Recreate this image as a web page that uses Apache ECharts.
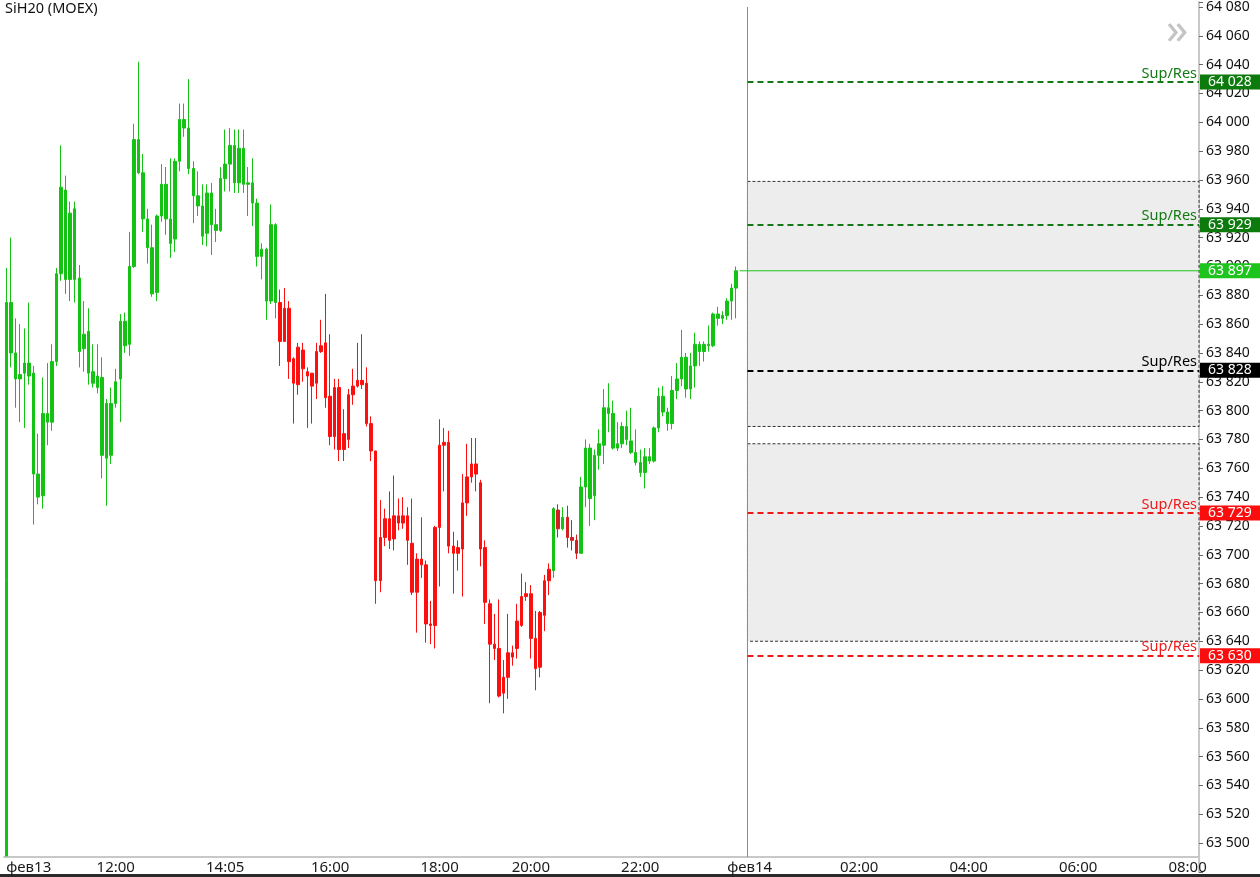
<!DOCTYPE html>
<html><head><meta charset="utf-8">
<script src="https://cdn.jsdelivr.net/npm/echarts@6/dist/echarts.min.js"></script>
<style>html,body{margin:0;padding:0;background:#fff}#c{width:1260px;height:877px}</style>
</head><body><div id="c"></div>
<script>
// ---- time slots (5-minute candles; trading sessions + future area) ----
const sessions = [
  ['13', '10:00', '13:55'],
  ['13', '14:05', '18:40'],
  ['13', '19:05', '23:55'],
  ['14', '00:00', '08:10']
];
const CANDLE_COUNT = 161;

const tickKeys  = ['13 10:00','13 12:00','13 14:05','13 16:00','13 18:00','13 20:00','13 22:00','14 00:00','14 02:00','14 04:00','14 06:00','14 08:00'];
const tickTexts = ['фев13','12:00','14:05','16:00','18:00','20:00','22:00','фев14','02:00','04:00','06:00','08:00'];

// price axis: labelled ticks every 20 from 63 500 to 64 080
const yLabelMin = 63500, yLabelMax = 64080, yStep = 20;

// ---- OHLC ----
const open = [63491,63875,63840,63822,63826,63833,63826,63756,63741,63798,
63792,63834,63895,63953,63891,63940,63892,63843,63855,63827,
63824,63823,63767,63805,63805,63822,63845,63846,63900,63988,
63965,63933,63913,63882,63935,63957,63933,63919,63973,64002,
63996,63968,63949,63942,63923,63951,63929,63925,63961,63971,
63984,63958,63982,63957,63958,63944,63907,63912,63876,63929,
63875,63848,63871,63836,63818,63842,63827,63826,63819,63841,
63847,63810,63782,63816,63773,63780,63811,63817,63821,63819,
63791,63772,63682,63712,63725,63711,63727,63722,63727,63708,
63674,63697,63693,63652,63651,63719,63776,63778,63706,63701,
63704,63736,63754,63763,63750,63705,63666,63638,63635,63604,
63615,63632,63635,63651,63671,63673,63642,63622,63658,63682,
63689,63731,63718,63726,63712,63710,63701,63747,63774,63741,
63769,63776,63802,63798,63774,63777,63789,63779,63771,63764,
63757,63768,63765,63788,63810,63799,63791,63814,63822,63837,
63815,63831,63846,63841,63846,63845,63867,63864,63866,63876,
63885];
const close = [63875,63840,63822,63825,63833,63824,63756,63740,63798,63792,
63834,63895,63955,63891,63937,63891,63841,63853,63826,63819,
63816,63769,63805,63769,63820,63862,63862,63900,63988,63965,
63933,63913,63881,63935,63957,63933,63916,63973,64002,63996,
63968,63949,63942,63921,63951,63929,63925,63961,63971,63984,
63958,63982,63957,63958,63944,63907,63912,63876,63929,63875,
63848,63871,63834,63819,63844,63829,63824,63817,63841,63845,
63809,63782,63816,63773,63784,63811,63817,63821,63818,63791,
63772,63682,63712,63725,63710,63727,63722,63727,63710,63674,
63697,63693,63652,63651,63719,63776,63778,63706,63701,63705,
63736,63754,63763,63756,63704,63667,63638,63635,63602,63615,
63632,63629,63654,63671,63673,63642,63621,63660,63682,63690,
63732,63718,63726,63712,63710,63701,63747,63774,63739,63769,
63777,63802,63798,63774,63777,63789,63780,63771,63764,63757,
63768,63765,63788,63810,63799,63791,63814,63822,63837,63815,
63831,63846,63841,63846,63845,63867,63864,63866,63876,63885,
63897];
const low = [63491,63830,63802,63792,63788,63818,63721,63735,63732,63776,
63786,63831,63890,63881,63876,63875,63830,63827,63818,63816,
63812,63753,63734,63763,63802,63792,63840,63838,63899,63964,
63924,63902,63879,63876,63931,63922,63906,63910,63966,63990,
63964,63930,63935,63915,63914,63908,63917,63924,63952,63952,
63951,63951,63951,63935,63928,63900,63891,63863,63874,63864,
63831,63848,63822,63791,63811,63820,63788,63791,63808,63840,
63802,63776,63773,63765,63765,63774,63804,63816,63815,63789,
63765,63666,63674,63706,63704,63703,63717,63718,63693,63672,
63646,63684,63639,63638,63635,63678,63744,63701,63673,63689,
63671,63727,63750,63744,63692,63652,63597,63627,63601,63590,
63600,63623,63628,63650,63668,63628,63606,63615,63647,63672,
63684,63712,63717,63705,63703,63697,63701,63733,63720,63724,
63759,63763,63785,63773,63772,63774,63776,63770,63762,63754,
63746,63763,63764,63785,63796,63786,63787,63808,63817,63809,
63808,63816,63831,63834,63841,63844,63859,63860,63863,63863,
63864];
const high = [63899,63920,63864,63860,63857,63875,63831,63784,63823,63833,
63846,63899,63984,63963,63945,63945,63901,63876,63871,63846,
63846,63837,63808,63816,63829,63867,63868,63924,63999,64042,
63978,63940,63929,63936,63971,63969,63975,63975,64013,64013,
64030,63973,63966,63957,63957,63958,63940,63969,63995,63996,
63995,63995,63995,63969,63975,63947,63916,63913,63943,63930,
63884,63885,63876,63837,63847,63847,63830,63826,63847,63863,
63881,63853,63822,63822,63801,63815,63829,63847,63853,63830,
63796,63772,63738,63732,63744,63755,63739,63740,63733,63739,
63701,63726,63696,63668,63720,63794,63788,63786,63716,63710,
63756,63777,63781,63781,63752,63710,63669,63659,63669,63627,
63659,63637,63666,63687,63681,63679,63661,63661,63686,63694,
63733,63735,63733,63734,63724,63714,63754,63780,63777,63773,
63787,63815,63819,63807,63792,63792,63800,63802,63787,63773,
63774,63774,63789,63816,63817,63802,63824,63833,63856,63840,
63840,63854,63848,63848,63859,63868,63872,63869,63878,63888,
63900];
// trend colouring segments [firstIndex, lastIndex, kind]
const trendSegments = [[0,59,'g'],[60,119,'r'],[120,120,'g'],[121,121,'d'],[122,122,'g'],[123,125,'d'],[126,160,'g']];

// ---- levels ----
const supRes = [
  {value: 64028, line: '#137a13', bg: '#0c7a0c'},
  {value: 63929, line: '#137a13', bg: '#0c7a0c'},
  {value: 63828, line: '#000000', bg: '#000000'},
  {value: 63729, line: '#ee1a1a', bg: '#fb0d0d'},
  {value: 63630, line: '#ee1a1a', bg: '#fb0d0d'}
];
const lastPrice = 63897;
const zones = [[63959, 63789], [63777, 63640]];

// ---- build ----
function toMin(s){const p=s.split(':');return +p[0]*60 + +p[1];}
function pad(n){return (n<10?'0':'')+n;}
const categories = [];
sessions.forEach(([d, a, b]) => {
  for (let m = toMin(a); m <= toMin(b); m += 5) categories.push(d + ' ' + pad(Math.floor(m/60)) + ':' + pad(m%60));
});
const tickMap = {};
tickKeys.forEach((k, i) => tickMap[k] = tickTexts[i]);
const isTick = (idx, val) => Object.prototype.hasOwnProperty.call(tickMap, val);

const COLORS = {g: '#13c213', r: '#fb0f0f', d: '#d21f1f'};
const kindAt = [];
trendSegments.forEach(([a, b, k]) => { for (let i = a; i <= b; i++) kindAt[i] = k; });
const candles = [];
for (let i = 0; i < CANDLE_COUNT; i++) {
  const c = COLORS[kindAt[i]];
  candles.push({value: [open[i], close[i], low[i], high[i]],
    itemStyle: {color: c, color0: c, borderColor: c, borderColor0: c, borderColorDoji: c}});
}
const fmt = v => String(Math.round(v)).replace(/\B(?=(\d{3})+(?!\d))/g, ' ');

const Y_MIN = 63480, Y_MAX = 64083.5;     // min is a multiple of the 20 step
const PLOT_BOTTOM_VALUE = 63490.3;        // value at the x-axis line
const NOW_X = CANDLE_COUNT + 2;           // start of the 00:00 slot
const X_END = categories.length;
const FONT = '"Noto Sans", "DejaVu Sans", sans-serif';

const levelLines = supRes.map(l => [
  {coord: [NOW_X, l.value], lineStyle: {color: l.line, type: [6, 4], width: 2},
   label: {show: true, position: 'insideEndTop', formatter: 'Sup/Res', color: l.line, fontSize: 14.5, distance: [2, 1], fontFamily: FONT}},
  {coord: [X_END, l.value]}
]);
const tags = supRes.map(l => ({v: l.value, bg: l.bg})).concat([{v: lastPrice, bg: '#1ec41e'}]);
const tagLines = tags.map(t => [
  {coord: [NOW_X, t.v],
   label: {show: true, position: 'end', formatter: fmt(t.v), color: '#fff', backgroundColor: t.bg,
           padding: [1, 10, 0, 8], distance: 1, fontSize: 14, fontFamily: FONT}},
  {coord: [X_END, t.v]}
]);

const chart = echarts.init(document.getElementById('c'), null, {renderer: 'canvas'});
chart.setOption({
  animation: false,
  backgroundColor: '#ffffff',
  textStyle: {fontFamily: FONT},
  title: {text: 'SiH20 (MOEX)', left: 5, top: 1, padding: 0,
          textStyle: {fontSize: 14.5, fontWeight: 'normal', color: '#111', fontFamily: FONT}},
  grid: {left: 4, right: 61, top: 0, bottom: 5.1, containLabel: false},
  xAxis: [
    {type: 'category', data: categories, boundaryGap: true, offset: -15,
     axisLine: {onZero: false, lineStyle: {color: '#c8c8c8', width: 2}},
     axisTick: {inside: true, length: 6, alignWithLabel: true, interval: isTick, lineStyle: {color: '#b4b4b4'}},
     axisLabel: {interval: isTick, formatter: v => tickMap[v], color: '#1a1a1a', fontSize: 15, margin: 3,
                 alignMinLabel: 'left', fontFamily: FONT},
     splitLine: {show: false}},
    {type: 'value', min: 0, max: X_END, show: false, gridIndex: 0, axisLine: {onZero: false}}
  ],
  yAxis: {type: 'value', position: 'right', min: Y_MIN, max: Y_MAX, interval: yStep,
    axisLine: {show: true, onZero: false, lineStyle: {color: '#c8c8c8', width: 2}},
    axisTick: {show: true, length: 4, lineStyle: {color: '#666'}},
    axisLabel: {formatter: v => (v < yLabelMin || v > yLabelMax) ? '' : fmt(v),
                color: '#111', fontSize: 14, margin: 7, fontFamily: FONT},
    splitLine: {show: false}},
  graphic: [
    {type: 'text', left: 1166, top: 9, style: {text: '»', fontSize: 44, fill: '#c4c4c4', fontFamily: FONT}},
    {type: 'rect', left: 0, top: 874, shape: {width: 1260, height: 3}, style: {fill: '#2a2a2a'}}
  ],
  series: [
    {type: 'line', name: 'now', xAxisIndex: 1, yAxisIndex: 0, data: [], z: 1, silent: true,
     markLine: {symbol: 'none', silent: true, animation: false,
       lineStyle: {color: '#8c8c8c', width: 1, type: 'solid'}, label: {show: false},
       data: [[{coord: [NOW_X, yLabelMax]}, {coord: [NOW_X, PLOT_BOTTOM_VALUE]}]]}},
    {type: 'line', name: 'zones', xAxisIndex: 1, yAxisIndex: 0, data: [], z: 2, silent: true,
     markArea: {silent: true, animation: false,
       itemStyle: {color: '#ededed', borderColor: '#333', borderWidth: 1, borderType: [3, 2]},
       data: zones.map(z => [{coord: [NOW_X, z[0]]}, {coord: [X_END, z[1]]}])}},
    {type: 'candlestick', name: 'SiH20', xAxisIndex: 0, yAxisIndex: 0, data: candles, barWidth: 3,
     clip: true, z: 5, itemStyle: {borderWidth: 1}},
    {type: 'line', name: 'levels', xAxisIndex: 1, yAxisIndex: 0, data: [], z: 6, silent: true,
     markLine: {symbol: 'none', silent: true, animation: false, data: levelLines}},
    {type: 'line', name: 'last', xAxisIndex: 1, yAxisIndex: 0, z: 8, silent: true,
     symbol: 'none', showSymbol: false, color: '#1fc21f',
     lineStyle: {color: '#1fc21f', width: 1, type: 'solid'},
     data: [[CANDLE_COUNT + 0.3, lastPrice], [X_END, lastPrice]]},
    {type: 'line', name: 'tags', xAxisIndex: 1, yAxisIndex: 0, data: [], z: 7, silent: true,
     markLine: {symbol: 'none', silent: true, animation: false,
       lineStyle: {color: 'rgba(0,0,0,0)', width: 1}, data: tagLines}}
  ]
});
</script></body></html>
